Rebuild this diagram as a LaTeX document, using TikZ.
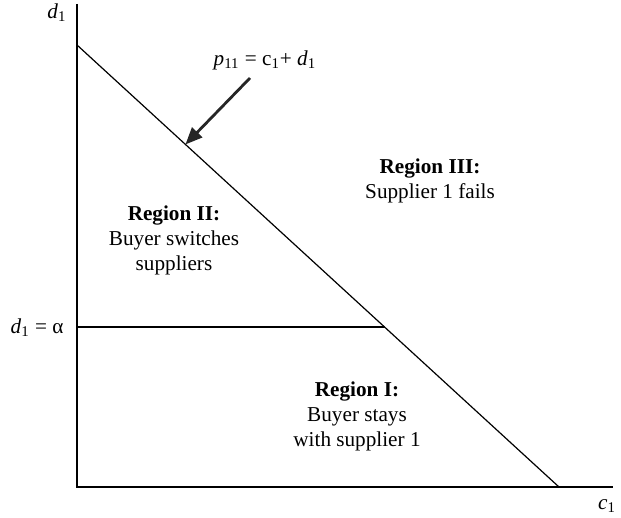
\documentclass[tikz,border=0pt]{standalone}
\usepackage{fontspec}
\setmainfont{Liberation Serif}
\usepackage{tikz}
\usetikzlibrary{arrows.meta,positioning,calc}

\begin{document}
\begin{tikzpicture}[
  x=0.5pt, y=-0.5pt,
  lbl/.style={font=\fontsize{10.6}{12.5}\selectfont, inner sep=0pt},
  region/.style={lbl, align=center},
  axis/.style={line width=0.85pt},
  bound/.style={line width=0.6pt},
  arr/.style={-{Triangle[length=8.5pt, width=7pt]}, line width=1.4pt, black!85}
]
\useasboundingbox (0,0) rectangle (621,518);
% axes and boundaries
\coordinate (o) at (77,487);
\coordinate (ytop) at (77,4);
\coordinate (xend) at (613,487);
\coordinate (dtop) at (77,45);
\coordinate (cend) at (559,487);
\coordinate (alev) at (77,327);
\coordinate (meet) at ($(dtop)!0.638!(cend)$);
\coordinate (hit) at ($(dtop)!0.225!(cend)$);
\coordinate (tail) at (250,78);
\draw[axis] (ytop) -- (o) -- (xend);
\draw[bound] (dtop) -- (cend);
\draw[axis] (alev) -- (meet);
\draw[arr] (tail) -- (hit);
% labels
\node[lbl] (dlab) at (57,13) {\textit{d}\textsubscript{1}};
\node[lbl] (clab) at (607,506) {\textit{c}\textsubscript{1}};
\node[lbl] (alab) at (37,328) {\textit{d}\textsubscript{1} = α};
\node[lbl] (plab) at (265,60) {\textit{p}\textsubscript{11} = c\textsubscript{1}+ \textit{d}\textsubscript{1}};
\node[region] (r3) at (430,181) {\textbf{Region III:}\\Supplier 1 fails};
\node[region] (r2) at (174,240) {\textbf{Region II:}\\Buyer switches\\suppliers};
\node[region] (r1) at (357,416) {\textbf{Region I:}\\Buyer stays\\with supplier 1};
\end{tikzpicture}
\end{document}
